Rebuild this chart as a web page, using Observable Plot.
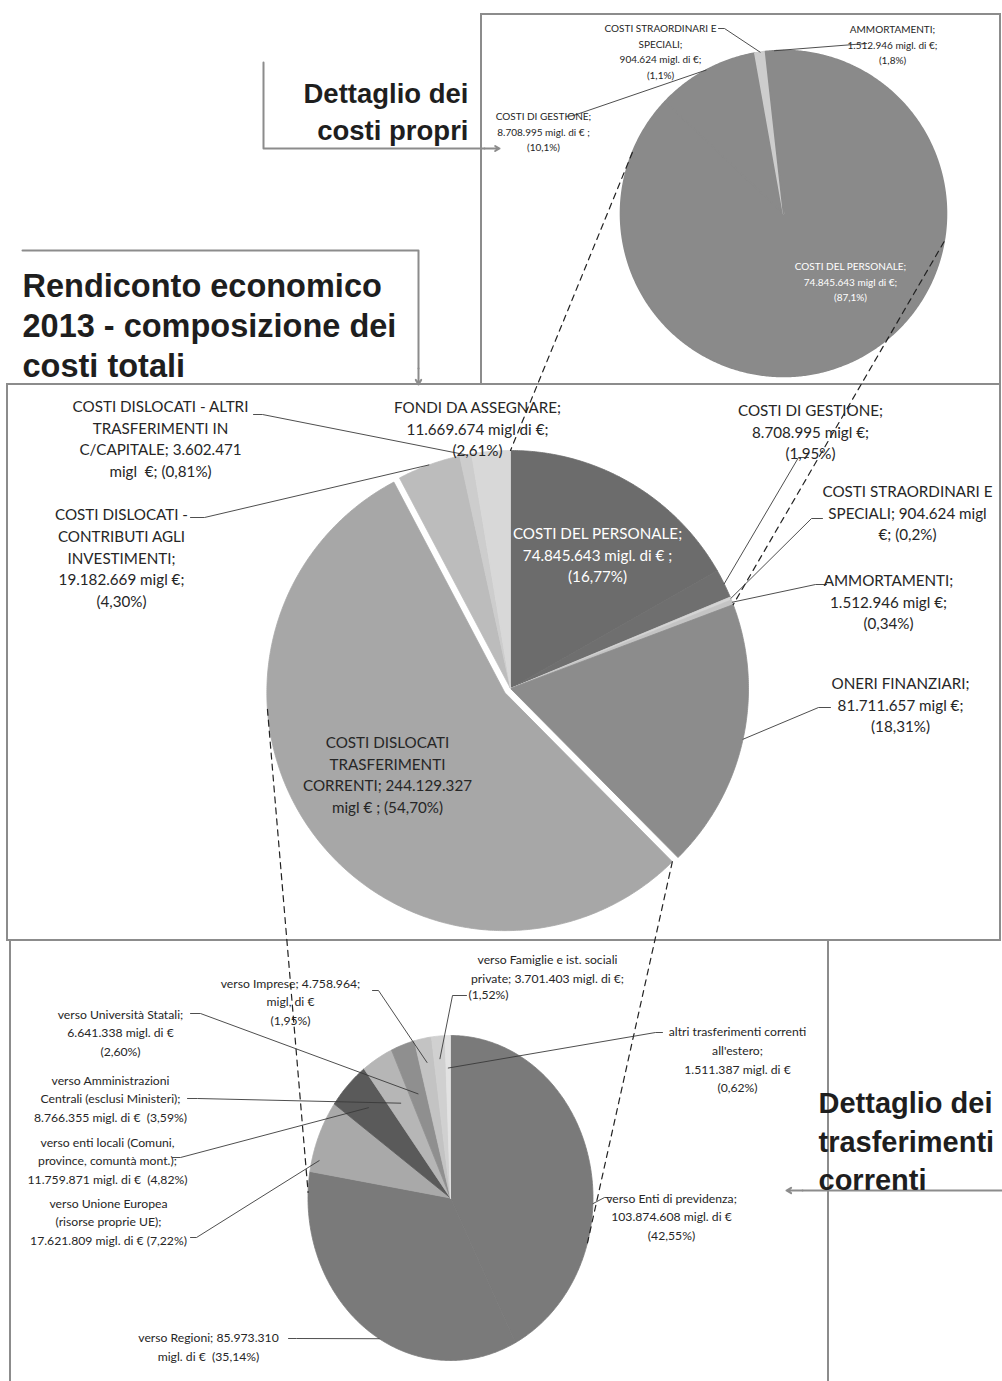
<!DOCTYPE html>
<html><head><meta charset="utf-8">
<script src="https://cdn.jsdelivr.net/npm/d3@7"></script>
<script src="https://cdn.jsdelivr.net/npm/@observablehq/plot@0.6"></script>
<style>body{margin:0;background:#fff} svg{display:block}</style>
</head><body><div id="chart"></div>
<script>
// ---------------- DATA ----------------
const mainCategories = ["COSTI DEL PERSONALE","COSTI DI GESTIONE","COSTI STRAORDINARI E SPECIALI","AMMORTAMENTI","ONERI FINANZIARI","COSTI DISLOCATI TRASFERIMENTI CORRENTI","COSTI DISLOCATI - CONTRIBUTI AGLI INVESTIMENTI","COSTI DISLOCATI - ALTRI TRASFERIMENTI IN C/CAPITALE","FONDI DA ASSEGNARE"];
const mainValues = [74845643, 8708995, 904624, 1512946, 81711657, 244129327, 19182669, 3602471, 11669674];
const mainShares = ["16,77%","1,95%","0,2%","0,34%","18,31%","54,70%","4,30%","0,81%","2,61%"];

const topCategories = ["COSTI DEL PERSONALE","COSTI DI GESTIONE","COSTI STRAORDINARI E SPECIALI","AMMORTAMENTI"];
const topValues = [74845643, 8708995, 904624, 1512946];
const topShares = ["87,1%","10,1%","1,1%","1,8%"];

const trCategories = ["verso Enti di previdenza","verso Regioni","verso Unione Europea (risorse proprie UE)","verso enti locali (Comuni, province, comuntà mont.)","verso Amministrazioni Centrali (esclusi Ministeri)","verso Università Statali","verso Imprese","verso Famiglie e ist. sociali private","altri trasferimenti correnti all'estero"];
const trValues = [103874608, 85973310, 17621809, 11759871, 8766355, 6641338, 4758964, 3701403, 1511387];
const trShares = ["42,55%","35,14%","7,22%","4,82%","3,59%","2,60%","1,95%","1,52%","0,62%"];

// ---------------- FORMAT ----------------
const it = d3.formatLocale({decimal: ",", thousands: ".", grouping: [3], currency: ["", "€"]});
const f = it.format(",");

const mainText = [
  (v,p)=>["COSTI DEL PERSONALE;", `${f(v)} migl. di € ;`, `(${p})`],
  (v,p)=>["COSTI DI GESTIONE;", `${f(v)} migl €;`, `(${p})`],
  (v,p)=>["COSTI STRAORDINARI E", `SPECIALI; ${f(v)} migl`, `€; (${p})`],
  (v,p)=>["AMMORTAMENTI;", `${f(v)} migl €;`, `(${p})`],
  (v,p)=>["ONERI FINANZIARI;", `${f(v)} migl €;`, `(${p})`],
  (v,p)=>["COSTI DISLOCATI", "TRASFERIMENTI", `CORRENTI; ${f(v)}`, `migl € ; (${p})`],
  (v,p)=>["COSTI DISLOCATI -", "CONTRIBUTI AGLI", "INVESTIMENTI;", `${f(v)} migl €;`, `(${p})`],
  (v,p)=>["COSTI DISLOCATI - ALTRI", "TRASFERIMENTI IN", `C/CAPITALE; ${f(v)}`, `migl  €; (${p})`],
  (v,p)=>["FONDI DA ASSEGNARE;", `${f(v)} migl di €;`, `(${p})`]
];
const topText = [
  (v,p)=>["COSTI DEL PERSONALE;", `${f(v)} migl di €;`, `(${p})`],
  (v,p)=>["COSTI DI GESTIONE;", `${f(v)} migl. di € ;`, `(${p})`],
  (v,p)=>["COSTI STRAORDINARI E", "SPECIALI;", `${f(v)} migl. di €;`, `(${p})`],
  (v,p)=>["AMMORTAMENTI;", `${f(v)} migl. di €;`, `(${p})`]
];
const trText = [
  (v,p)=>["verso Enti di previdenza;", `${f(v)} migl. di €`, `(${p})`],
  (v,p)=>[`verso Regioni; ${f(v)}`, `migl. di €  (${p})`],
  (v,p)=>["verso Unione Europea", "(risorse proprie UE);", `${f(v)} migl. di € (${p})`],
  (v,p)=>["verso enti locali (Comuni,", "province, comuntà mont.);", `${f(v)} migl. di €  (${p})`],
  (v,p)=>["verso Amministrazioni", "Centrali (esclusi Ministeri);", `${f(v)} migl. di €  (${p})`],
  (v,p)=>["verso Università Statali;", `${f(v)} migl. di €`, `(${p})`],
  (v,p)=>[`verso Imprese; ${f(v)};`, "migl, di €", `(${p})`],
  (v,p)=>["verso Famiglie e ist. sociali", `private; ${f(v)} migl. di €;`],
  (v,p)=>["altri trasferimenti correnti", "all'estero;", `${f(v)} migl. di €`, `(${p})`]
];

// ---------------- LAYOUT ----------------
const mainLayout = {
  center: [510, 688], rx: 238, ry: 238, start: 0,
  explode: [0,0,0,0,0,7,0,0,0],
  colors: ["#6c6c6c","#6f6f6f","#d4d4d4","#c4c4c4","#8c8c8c","#a7a7a7","#bcbcbc","#cdcdcd","#d8d8d8"],
  stroke: "same", sw: 0.8,
  font: 15.2, lh: 1.44,
  labels: [
    {x:597, y:553, fill:"#ffffff"},
    {x:810, y:430, leader:[[808,457],[798,457]]},
    {x:907, y:511, leader:[[822,518],[811,518]]},
    {x:888, y:600, leader:[[826,584],[815,584]]},
    {x:900, y:703, leader:[[830,707],[818,707]]},
    {x:387, y:773},
    {x:121, y:556, leader:[[190,517],[204,517]]},
    {x:160, y:437, leader:[[253,414],[262,414]]},
    {x:477, y:427}
  ]
};
const topLayout = {
  center: [783, 213], rx: 163, ry: 163, start: 0,
  colors: ["#8a8a8a","#8a8a8a","#cdcdcd","#8a8a8a"],
  stroke: "same", sw: 1.6,
  font: 10, lh: 1.58,
  labels: [
    {x:850, y:280, fill:"#ffffff"},
    {x:543, y:130, leader:[[566,116],[573,115]]},
    {x:660, y:50, leader:[[718,28],[724,28]]},
    {x:892, y:43, leader:[[866,43]]}
  ]
};
const trLayout = {
  center: [450, 1197.5], rx: 142.5, ry: 162.5, start: 0,
  colors: ["#7a7a7a","#7a7a7a","#a9a9a9","#5a5a5a","#b6b6b6","#8f8f8f","#c3c3c3","#d0d0d0","#e2e2e2"],
  stroke: "same", sw: 0.8,
  font: 12.2, lh: 1.53,
  labels: [
    {x:671, y:1215, leader:[[610,1197],[604,1197]], attach:92},
    {x:208, y:1345, leader:[[288,1338],[296,1338]], attach:210},
    {x:108, y:1220, leader:[[190,1237],[196,1237]], attach:284, k:0.95},
    {x:107, y:1159, leader:[[172,1157],[180,1157]], k:0.8},
    {x:110, y:1097, leader:[[187,1098],[197,1098]], k:0.68},
    {x:120, y:1031, leader:[[190,1013],[200,1013]], k:0.68},
    {x:290, y:1000, leader:[[372,990],[378,990]], k:0.85},
    {x:547, y:967, leader:[[466,995],[452,995]], k:0.86, extra:{x:488, y:995}},
    {x:737, y:1058, leader:[[662,1032],[655,1032]], k:0.8}
  ]
};
const boxes = [
  {x1:481, x2:1000, y1:14, y2:384},
  {x1:7, x2:1000, y1:384, y2:940},
  {x1:10, x2:828, y1:940, y2:1390}
];
const headings = [
  {x:468, y:109, anchor:"end", size:27.5, lh:1.36, lines:["Dettaglio dei","costi propri"]},
  {x:22, y:324, anchor:"start", size:32.5, lh:1.23, lines:["Rendiconto economico","2013 - composizione dei","costi totali"]},
  {x:818, y:1139, anchor:"start", size:29, lh:1.33, lines:["Dettaglio dei","trasferimenti","correnti"]}
];
const brackets = [
  {path:[[263,62],[263,148],[484,148]], arrow:[484,148,499,148]},
  {path:[[22,250],[418,250],[418,368]], arrow:[418,368,418,384]},
  {path:[[1002,1190],[802,1190]], arrow:[802,1190,786,1190]}
];
const connectors = [
  {from:"top", a:292, to:"main", slice:0, edge:"a0"},
  {from:"top", a:100, to:"main", slice:3, edge:"a1"},
  {from:"main", slice:5, a:266, to:"tr", b:272},
  {from:"main", slice:5, edge:"a0", to:"tr", b:106}
];

// ---------------- GEOMETRY ----------------
const deg = Math.PI/180;
function pt(c, rx, ry, a){ return {x: c[0] + rx*Math.sin(a*deg), y: c[1] - ry*Math.cos(a*deg)}; }
function buildSlices(values, L){
  const total = d3.sum(values);
  let cum = 0;
  return values.map((v,i)=>{
    const a0 = L.start + 360*cum/total; cum += v;
    const a1 = L.start + 360*cum/total;
    const mid = (a0+a1)/2;
    const ex = (L.explode && L.explode[i]) || 0;
    const c = [L.center[0] + ex*Math.sin(mid*deg), L.center[1] - ex*Math.cos(mid*deg)];
    const n = Math.max(2, Math.ceil((a1-a0)/0.5));
    const poly = [{x:c[0], y:c[1]}];
    for (let k=0;k<=n;k++) poly.push(pt(c, L.rx, L.ry, a0 + (a1-a0)*k/n));
    poly.push({x:c[0], y:c[1]});
    return {i, a0, a1, mid, c, poly, color: L.colors[i]};
  });
}
const mainSlices = buildSlices(mainValues, mainLayout);
const topSlices = buildSlices(topValues, topLayout);
const trSlices = buildSlices(trValues, trLayout);

const FONT = "Lato, 'Open Sans', sans-serif";
const HFONT = "'Liberation Sans', Arial, sans-serif";

function pieMarks(slices, L){
  return slices.map(s => Plot.line(s.poly, {x:"x", y:"y", fill:s.color, stroke: L.stroke === "same" ? s.color : L.stroke, strokeWidth:L.sw, strokeLinejoin:"round"}));
}
function labelMarks(slices, L, textFns, values, shares){
  const marks = [];
  const texts = L.labels.map((lab,i)=>({x:lab.x, y:lab.y, fill:lab.fill || "#262626", text:textFns[i](values[i], shares[i]).join("\n")}));
  L.labels.forEach((lab,i)=>{
    if (!lab.leader) return;
    const s = slices[i];
    const k = lab.k || 1;
    const pts = lab.leader.map(([x,y])=>({x,y}));
    pts.push(pt(s.c, L.rx*k, L.ry*k, lab.attach ?? s.mid));
    marks.push(Plot.line(pts, {x:"x", y:"y", stroke:"#3a3a3a", strokeWidth:0.9}));
    if (lab.extra) marks.push(Plot.text([{x:lab.extra.x, y:lab.extra.y, t:`(${shares[i]})`}], {x:"x", y:"y", text:"t", fill:"#262626", fontSize:L.font, fontFamily:FONT, textAnchor:"middle"}));
  });
  marks.push(Plot.text(texts, {x:"x", y:"y", text:"text", fill:"fill", fontSize:L.font, lineHeight:L.lh, fontFamily:FONT, textAnchor:"middle"}));
  return marks;
}
const pies = {top:{s:topSlices, L:topLayout}, main:{s:mainSlices, L:mainLayout}, tr:{s:trSlices, L:trLayout}};
function connectorPoints(cn){
  const A = pies[cn.from], B = pies[cn.to];
  let p1, p2;
  if (cn.from === "top") p1 = pt(A.L.center, A.L.rx, A.L.ry, cn.a);
  else { const s = A.s[cn.slice]; p1 = pt(s.c, A.L.rx, A.L.ry, cn.edge ? s[cn.edge] : cn.a); }
  if (cn.to === "main") { const s = B.s[cn.slice]; p2 = pt(s.c, B.L.rx, B.L.ry, s[cn.edge]); }
  else p2 = pt(B.L.center, B.L.rx, B.L.ry, cn.b);
  return [p1, p2];
}

const marks = [];
marks.push(Plot.rect(boxes, {x1:"x1", x2:"x2", y1:"y1", y2:"y2", fill:"none", stroke:"#8c8c8c", strokeWidth:2}));
marks.push(...pieMarks(topSlices, topLayout));
marks.push(...pieMarks(mainSlices, mainLayout));
marks.push(...pieMarks(trSlices, trLayout));
connectors.forEach(cn => marks.push(Plot.line(connectorPoints(cn), {x:"x", y:"y", stroke:"#222", strokeWidth:1.2, strokeDasharray:"6,5"})));
marks.push(...labelMarks(topSlices, topLayout, topText, topValues, topShares));
marks.push(...labelMarks(mainSlices, mainLayout, mainText, mainValues, mainShares));
marks.push(...labelMarks(trSlices, trLayout, trText, trValues, trShares));
brackets.forEach(b=>{
  marks.push(Plot.line(b.path.map(([x,y])=>({x,y})), {x:"x", y:"y", stroke:"#8c8c8c", strokeWidth:2}));
  marks.push(Plot.arrow([b.arrow], {x1:d=>d[0], y1:d=>d[1], x2:d=>d[2], y2:d=>d[3], stroke:"#8c8c8c", strokeWidth:2, headLength:12}));
});
headings.forEach(h=>{
  marks.push(Plot.text([h], {x:"x", y:"y", text:d=>d.lines.join("\n"), fontSize:h.size, lineHeight:h.lh, fontWeight:"bold", fontFamily:HFONT, fill:"#1e1e1e", textAnchor:h.anchor}));
});

const chart = Plot.plot({
  width: 1002, height: 1381, margin: 0,
  x: {domain:[0,1002], range:[0,1002], axis:null},
  y: {domain:[0,1381], range:[0,1381], axis:null},
  style: {background:"#ffffff"},
  marks
});
document.getElementById("chart").append(chart);
</script>
</body></html>
